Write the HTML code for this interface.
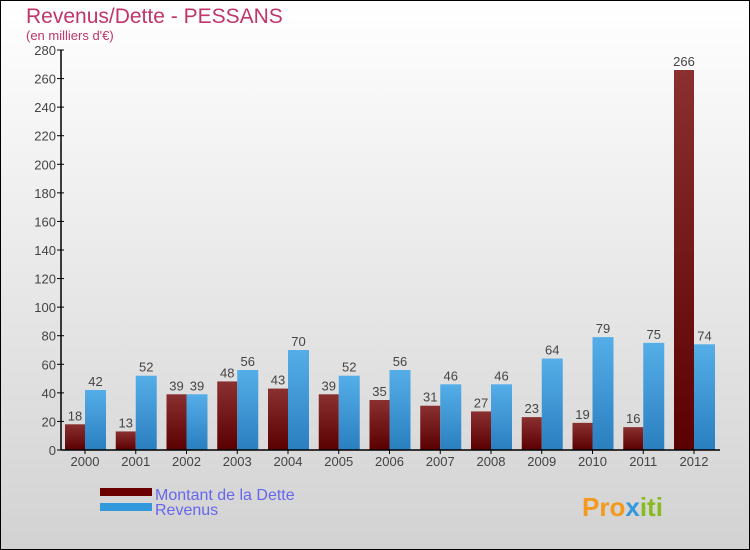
<!DOCTYPE html>
<html><head><meta charset="utf-8"><style>
body{margin:0;width:750px;height:550px;overflow:hidden}
svg{display:block;font-family:"Liberation Sans","DejaVu Sans",sans-serif}
</style></head><body>
<svg id="c" width="750" height="550" xmlns="http://www.w3.org/2000/svg">
<defs>
<linearGradient id="bg" x1="0" y1="0" x2="0" y2="1"><stop offset="0" stop-color="#ffffff"/><stop offset="1" stop-color="#d2d2d2"/></linearGradient>
<linearGradient id="gd" x1="0" y1="0" x2="0" y2="1"><stop offset="0" stop-color="#8b3030"/><stop offset="1" stop-color="#5a0000"/></linearGradient>
<linearGradient id="gr" x1="0" y1="0" x2="0" y2="1"><stop offset="0" stop-color="#55aee8"/><stop offset="1" stop-color="#2a7fbf"/></linearGradient>
</defs>
<rect x="0.5" y="0.5" width="749" height="549" fill="url(#bg)" stroke="#000"/>
<text x="26" y="23" font-size="21" fill="#c0356a">Revenus/Dette - PESSANS</text>
<text x="26" y="40" font-size="13" fill="#c0356a">(en milliers d'€)</text>
<g id="plot"></g>
<rect x="100" y="488" width="52" height="8" fill="#6a0000"/>
<rect x="100" y="503" width="52" height="8" fill="#3399dd"/>
<text x="155" y="500" font-size="16" fill="#6666ee">Montant de la Dette</text>
<text x="155" y="515" font-size="16" fill="#6666ee">Revenus</text>
<text x="582" y="516" font-size="26" font-weight="bold" fill="#f39a1e">Pro<tspan fill="#3399dd">x</tspan><tspan fill="#88bb22">iti</tspan></text>
</svg>
<script>
const years=["2000","2001","2002","2003","2004","2005","2006","2007","2008","2009","2010","2011","2012"];
const dette=[18,13,39,48,43,39,35,31,27,23,19,16,266];
const revenus=[42,52,39,56,70,52,56,46,46,64,79,75,74];
const yTicks=[0,20,40,60,80,100,120,140,160,180,200,220,240,260,280];
const NS="http://www.w3.org/2000/svg";
const g=document.getElementById('plot');
const x0=61,x1=720,yB=450,yT=50,yMax=280;
const step=50.75,first=85;
const y=v=>yB-(v/yMax)*(yB-yT);
const cx=i=>first+i*step;
function mk(t,a){const e=document.createElementNS(NS,t);for(const k in a)e.setAttribute(k,a[k]);g.appendChild(e);return e;}
yTicks.forEach(t=>{
 const l=mk('line',{x1:x0-4,x2:x0+3,y1:y(t),y2:y(t),stroke:'#000'});
 
 
 const tx=mk('text',{x:x0-5,y:y(t)+5,'font-size':13,'text-anchor':'end',fill:'#444'});
 tx.textContent=t;
 
 
});
years.forEach((yr,i)=>{
 const c=cx(i);
 const bd=mk('rect',{x:c-20,y:y(dette[i]),width:20,height:yB-y(dette[i]),fill:'url(#gd)'});
 
 
 const br=mk('rect',{x:c,y:y(revenus[i]),width:21,height:yB-y(revenus[i]),fill:'url(#gr)'});
 
 
 const ld=mk('text',{x:c-10,y:y(dette[i])-4,'font-size':13,'text-anchor':'middle',fill:'#444'});
 ld.textContent=dette[i];
 
 
 const lr=mk('text',{x:c+10.5,y:y(revenus[i])-4,'font-size':13,'text-anchor':'middle',fill:'#444'});
 lr.textContent=revenus[i];
 
 
 const tk=mk('line',{x1:c,x2:c,y1:yB,y2:yB+4,stroke:'#000'});
 
 
 const xl=mk('text',{x:c,y:466,'font-size':13,'text-anchor':'middle',fill:'#444'});
 xl.textContent=yr;
 
 
});
const ax=mk('line',{x1:x0,x2:x0,y1:yT,y2:yB,stroke:'#000','stroke-width':1.5});


const bx=mk('line',{x1:x0,x2:x1,y1:yB,y2:yB,stroke:'#000','stroke-width':1.5});


</script>
</body></html>
